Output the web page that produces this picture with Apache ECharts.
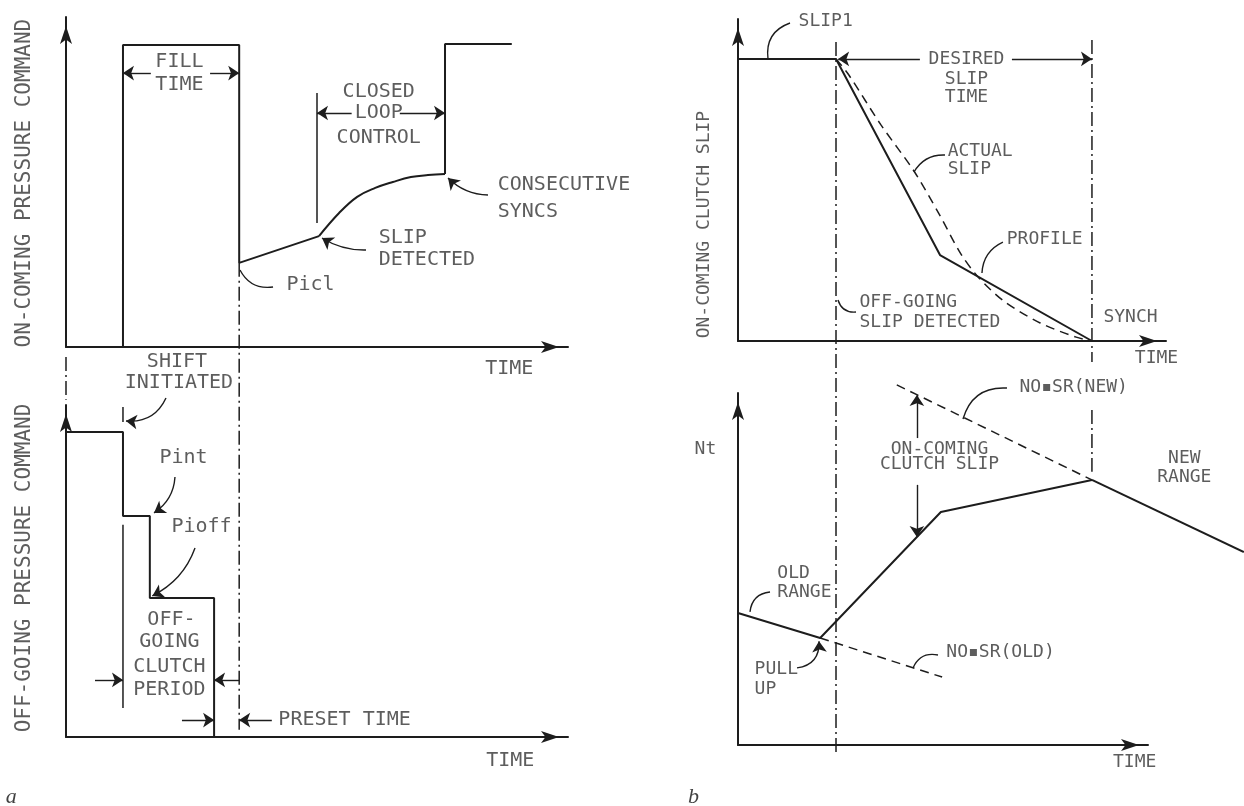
<!DOCTYPE html>
<html><head><meta charset="utf-8">
<script src="https://cdn.jsdelivr.net/npm/echarts/dist/echarts.min.js"></script>
<style>html,body{margin:0;padding:0;background:#fff}#c{width:1244px;height:806px}</style>
</head><body><div id="c"></div>
<script>
// ===== schematic data (time 0-100, level 0-100 per panel) =====
// panel a, top: on-coming pressure command
const onComingFill   = [[11.35,0],[11.35,91.5],[34.5,91.5],[34.5,25.5],[50.4,33.6]];
const onComingCurve  = [[50.4,33.6],[54.4,40.6],[58.0,45.5],[61.6,48.2],[65.1,50.0],[68.7,51.5],[72.1,52.1],[75.5,52.4]];
const onComingFull   = [[75.5,52.4],[75.5,91.8],[88.8,91.8]];
// panel a, bottom: off-going pressure command
const offGoingCmd    = [[0,91.9],[11.35,91.9],[11.35,66.6],[16.7,66.6],[16.7,41.9],[29.5,41.9],[29.5,0]];
// panel b, top: on-coming clutch slip
const slipProfile    = [[0,87.6],[22.9,87.6],[47.2,26.7],[82.7,0]];
const actualSlip     = [[22.9,87.6],[25.9,82.6],[33.4,67.1],[41.1,52.8],[47.0,39.4],[52.1,27.0],[56.3,19.6],[62.1,12.4],[70.6,5.6],[79.0,1.2],[82.7,0]];
// panel b, bottom: turbine speed Nt
const ntSpeed        = [[0,37.5],[19.2,30.4],[47.4,66.2],[82.7,75.3],[118.2,54.8]];
const noSrOld        = [[19.2,30.4],[47.7,19.3]];
const noSrNew        = [[37.1,102.3],[82.7,75.3]];
// event markers
const fillEnd = 34.5, slipDetectA = 50.0;
const slipDetectB = 22.9, synchB = 82.7;

// ===== texts =====
const textATop = [
 ['FILL', 22.7, 86.4], ['TIME', 22.7, 79.4],
 ['CLOSED', 62.4, 77.3], ['LOOP', 62.4, 70.9], ['CONTROL', 62.4, 63.3],
 ['CONSECUTIVE', 86.1, 49.1, 'left'], ['SYNCS', 86.1, 40.9, 'left'],
 ['SLIP', 62.4, 33.0, 'left'], ['DETECTED', 62.4, 26.4, 'left'],
 ['Picl', 44.0, 18.8, 'left'],
 ['SHIFT', 22.2, -4.5], ['INITIATED', 22.6, -10.9],
 ['TIME', 88.4, -6.7]
];
const nameATop = [['ON-COMING PRESSURE COMMAND', -8.2, 49.5, 'center', 90]];
const textABot = [
 ['Pint', 23.5, 84.0], ['Pioff', 27.1, 63.3],
 ['OFF-', 21.1, 35.2], ['GOING', 20.7, 28.6], ['CLUTCH', 20.7, 21.1], ['PERIOD', 20.7, 14.2],
 ['PRESET TIME', 42.4, 5.1, 'left'],
 ['TIME', 88.6, -7.2]
];
const nameABot = [['OFF-GOING PRESSURE COMMAND', -8.2, 50.75, 'center', 90]];
const textBTop = [
 ['ON-COMING CLUTCH SLIP', -7.7, 36.0, 'center', 90],
 ['SLIP1', 20.6, 99.1],
 ['DESIRED', 53.5, 87.3], ['SLIP', 53.5, 81.1], ['TIME', 53.5, 75.5],
 ['ACTUAL', 49.1, 58.7, 'left'], ['SLIP', 49.1, 53.1, 'left'],
 ['PROFILE', 62.9, 31.4, 'left'],
 ['OFF-GOING', 28.5, 11.8, 'left'], ['SLIP DETECTED', 28.5, 5.6, 'left'],
 ['SYNCH', 85.5, 7.1, 'left'],
 ['TIME', 97.9, -5.6]
];
const textBBot = [
 ['Nt', -7.5, 83.8],
 ['ON-COMING', 47.2, 83.8], ['CLUTCH SLIP', 47.2, 79.5],
 ['NO\u25AASR(NEW)', 65.9, 101.4, 'left'],
 ['NEW', 104.4, 81.3], ['RANGE', 104.4, 75.9],
 ['OLD', 9.3, 48.6, 'left'], ['RANGE', 9.3, 43.2, 'left'],
 ['NO\u25AASR(OLD)', 48.8, 26.1, 'left'],
 ['PULL', 4.0, 21.3, 'left'], ['UP', 4.0, 15.6, 'left'],
 ['TIME', 92.8, -5.1]
];

// ===== dimension arrows & leaders: [from, to, curveness] =====
const arrowsATop = [[[16.9,83],[11.35,83]],[[28.7,83],[34.5,83]],[[56.9,70.9],[50.0,70.9]],[[66.5,70.9],[75.5,70.9]],
  [[59.76,29.39],[51.0,33.03],0.15],[[84.06,46.06],[76.1,51.2],0.2]];
const leadersATop = [[[34.66,23.33],[41.24,18.18],-0.35]];
const arrowsABot = [[[5.78,17.2],[11.35,17.2]],[[34.5,17.2],[29.5,17.2]],[[23.1,5.1],[29.5,5.1]],[[41.0,5.1],[34.5,5.1]],
  [[19.92,102.1],[11.95,95.2],0.35],[[21.71,78.3],[17.53,67.5],0.25],[[25.7,56.9],[17.2,42.5],0.2]];
const arrowsBTop = [[[42.5,87.6],[23.4,87.6]],[[64.0,87.6],[82.7,87.6]]];
const leadersBTop = [[[7.01,87.58],[12.15,98.76],0.4],[[41.12,52.48],[48.36,57.76],0.3],[[57.0,21.1],[61.9,30.7],0.3],[[23.36,12.73],[27.57,9.0],-0.4]];
const arrowsBBot = [[[41.8,87.2],[41.8,99.4]],[[41.8,73.9],[41.8,59.1]],[[13.79,21.9],[18.93,29.5],-0.45]];
const leadersBBot = [[[52.57,92.6],[62.85,101.4],0.4],[[2.8,37.8],[7.48,43.47],0.4],[[40.89,21.9],[46.73,25.57],0.4]];

// ===== styling / builders =====
const INK = '#1d1d1d', TXT = '#353535';
const DASHDOT = [14,4,2,4], DASH = [9,6];
const grids = [
  {left:66, top:17, width:502, height:330},
  {left:66, top:405, width:502, height:332},
  {left:738, top:19, width:428, height:322},
  {left:738, top:393, width:410, height:352}
];
const xMax = [100,100,100,95.8];

function axis(i, max){
  return {gridIndex:i, type:'value', min:0, max:max,
    axisLine:{show:true, onZero:false, symbol:['none','arrow'], symbolSize:[9,18], symbolOffset:[0,-9], lineStyle:{color:INK,width:2}},
    axisTick:{show:false}, axisLabel:{show:false}, splitLine:{show:false}};
}
function path(g, data, style, extra){
  return Object.assign({type:'line', xAxisIndex:g, yAxisIndex:g, data:data, showSymbol:false, symbol:'none',
    clip:false, silent:true, animation:false, lineStyle:Object.assign({color:INK, width:2}, style||{})}, extra||{});
}
function arrowSet(g, segs, withArrow, width){
  return {type:'lines', coordinateSystem:'cartesian2d', xAxisIndex:g, yAxisIndex:g, clip:false, silent:true, animation:false,
    symbol: withArrow ? ['none','arrow'] : ['none','none'], symbolSize:[0,11],
    lineStyle:{color:INK, width:width||1.4, opacity:1},
    data: segs.map(s => ({coords:[s[0], s[1]], lineStyle:{curveness:s[2]||0}}))};
}
function texts(g, items, size, font, extraLabel){
  return {type:'scatter', xAxisIndex:g, yAxisIndex:g, symbolSize:1, itemStyle:{color:'rgba(0,0,0,0)'}, clip:false, silent:true, animation:false,
    data: items.map(t => ({name:t[0], value:[t[1], t[2]], label:{align:t[3]||'center', rotate:t[4]||0}})),
    label:Object.assign({show:true, formatter:'{b}', position:[0,0], verticalAlign:'middle', fontFamily:font||'DejaVu Sans Mono', fontSize:size, color:TXT}, extraLabel||{})};
}

const ntLast = ntSpeed.length - 1;
const series = [
  // a top
  path(0, onComingFill), path(0, onComingCurve, {}, {smooth:0.4}), path(0, onComingFull),
  path(0, [[fillEnd,25.5],[fillEnd,-116]], {width:1.5, type:DASHDOT}),
  path(0, [[0,-3],[0,-16]], {width:1.5, type:DASHDOT}),
  path(0, [[slipDetectA,37.6],[slipDetectA,77]], {width:1.5}),
  arrowSet(0, arrowsATop, true), arrowSet(0, leadersATop, false),
  texts(0, textATop, 20), texts(0, nameATop, 21),
  // a bottom
  path(1, offGoingCmd),
  path(1, [[11.35,99.4],[11.35,94.9]], {width:1.5}),
  path(1, [[11.35,63.9],[11.35,8.7]], {width:1.5}),
  arrowSet(1, arrowsABot, true),
  texts(1, textABot, 20), texts(1, nameABot, 21),
  texts(1, [['a', -10.8, -18.4]], 22, 'Liberation Serif', {fontStyle:'italic', color:'#111'}),
  // b top
  path(2, slipProfile),
  path(2, actualSlip, {width:1.5, type:DASH}, {smooth:0.3}),
  path(2, [[synchB,93.5],[synchB,-6.5]], {width:1.5, type:DASHDOT}),
  arrowSet(2, arrowsBTop, true), arrowSet(2, leadersBTop, false),
  texts(2, textBTop, 18),
  // b bottom
  path(3, ntSpeed.slice(0, ntLast)),
  arrowSet(3, [[ntSpeed[ntLast-1], ntSpeed[ntLast]]], false, 2),
  path(3, noSrOld, {width:1.5, type:DASH}),
  path(3, noSrNew, {width:1.5, type:DASH}),
  path(3, [[slipDetectB,199.7],[slipDetectB,-2]], {width:1.5, type:DASHDOT}),
  path(3, [[synchB,95.2],[synchB,77.6]], {width:1.5, type:DASHDOT}),
  arrowSet(3, arrowsBBot, true), arrowSet(3, leadersBBot, false),
  texts(3, textBBot, 18),
  texts(3, [['b', -10.3, -15.1]], 22, 'Liberation Serif', {fontStyle:'italic', color:'#111'})
];

const chart = echarts.init(document.getElementById('c'), null, {renderer:'canvas'});
chart.setOption({
  backgroundColor:'#ffffff', animation:false,
  grid: grids.map(g => Object.assign({containLabel:false, outerBoundsMode:'none'}, g)),
  xAxis: grids.map((g,i) => axis(i, xMax[i])),
  yAxis: grids.map((g,i) => axis(i, 100)),
  tooltip:{show:false},
  series: series
});
</script></body></html>
